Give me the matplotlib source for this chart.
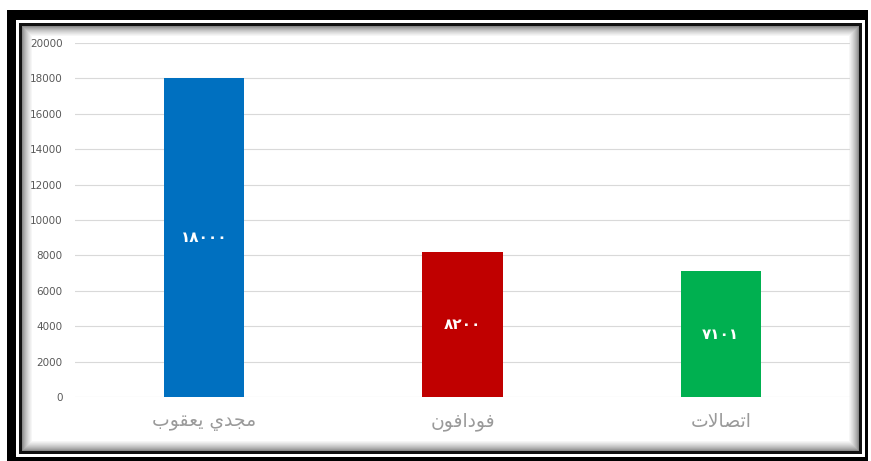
import numpy as np
import matplotlib.pyplot as plt
from matplotlib.patches import Rectangle

# category names, written in display order with Arabic presentation forms
# (matplotlib does no Arabic shaping): مجدي يعقوب / فودافون / اتصالات
categories = ["\uFE8F\uFEEE\uFED8\uFECC\uFEF3 \uFEF1\uFEAA\uFEA0\uFEE3",
              "\uFEE5\uFEEE\uFED3\uFE8D\uFEA9\uFEEE\uFED3",
              "\uFE95\uFEFB\uFE8E\uFEBC\uFE97\uFE8D"]
values = [18000, 8200, 7101]
colors = ["#0070C0", "#C00000", "#00B050"]
yticks = [0, 2000, 4000, 6000, 8000, 10000, 12000, 14000, 16000, 18000, 20000]

W, H = 871, 461
fig = plt.figure(figsize=(W / 100, H / 100), dpi=100)


def box(x0, y0, x1, y1, color):
    # rectangle in image pixel coords (origin top left)
    fig.patches.append(Rectangle((x0 / W, 1 - y1 / H), (x1 - x0) / W, (y1 - y0) / H,
                                 transform=fig.transFigure, facecolor=color,
                                 edgecolor="none", zorder=-10))


# frame: thick black outer, white gap, dark inner line, soft shadow inward
box(7, 10, 868, 461, "black")
box(16, 20, 865, 457, "white")
box(19, 23, 862, 454, "#111111")
steps = 11
for k in range(steps):
    g = 0.4 + 0.6 * ((k + 1) / steps) ** 0.6
    box(22 + k, 26 + k, 859 - k, 451 - k, (g, g, g))
box(22 + steps, 26 + steps, 859 - steps, 451 - steps, "white")

ax = fig.add_axes([75 / W, 1 - 397 / H, 775 / W, 354 / H])
ax.patch.set_alpha(0)

x = np.arange(len(values))
bars = ax.bar(x, values, width=0.31, color=colors, zorder=3)

ar_digits = str.maketrans("0123456789", "٠١٢٣٤٥٦٧٨٩")
for b, v in zip(bars, values):
    ax.text(b.get_x() + b.get_width() / 2, v / 2, str(v).translate(ar_digits),
            ha="center", va="center", color="white", fontsize=11,
            fontweight="bold", family="DejaVu Sans", zorder=4)

ax.set_xlim(-0.5, 2.5)
ax.set_ylim(0, 20000)
ax.set_yticks(yticks)
ax.set_yticklabels([str(t) for t in yticks])
ax.set_xticks(x)
ax.set_xticklabels(categories, family="DejaVu Sans", fontsize=13.5, color="#9A9A9A")
ax.tick_params(axis="y", length=0, pad=9, labelsize=7.5, labelcolor="#595959")
ax.tick_params(axis="x", length=0, pad=11)
ax.grid(axis="y", color="#D9D9D9", linewidth=0.8, zorder=0)
for s in ax.spines.values():
    s.set_visible(False)

fig.savefig("out.png", dpi=100)
